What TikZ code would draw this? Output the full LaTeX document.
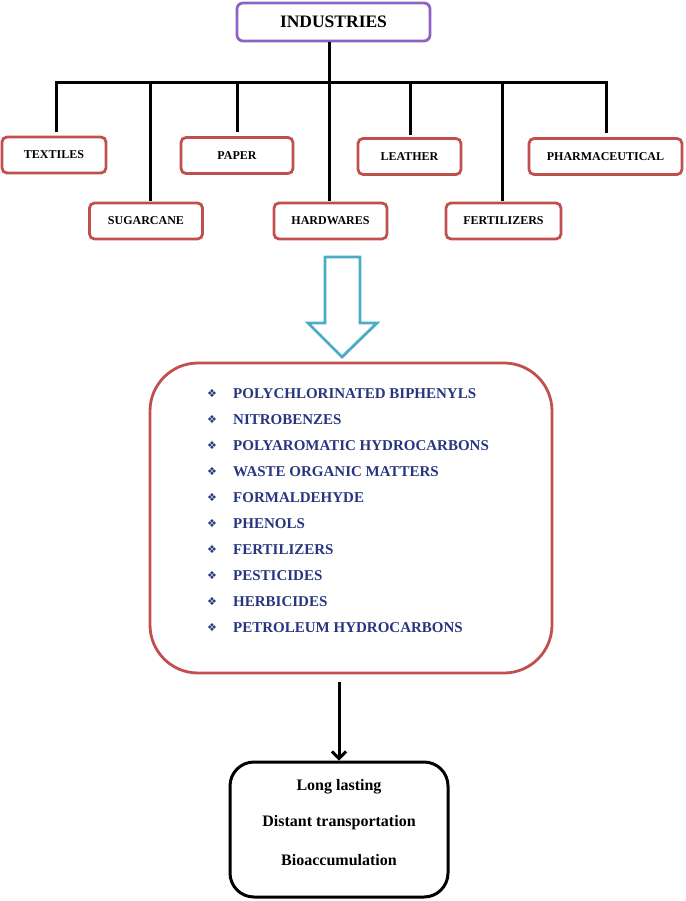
\documentclass[tikz,border=0pt]{standalone}
\usepackage{fontspec}
\setmainfont{Liberation Serif}
\newfontfamily\symfont{DejaVu Sans}
\usetikzlibrary{arrows.meta}
\definecolor{boxred}{HTML}{C0504D}
\definecolor{boxpurple}{HTML}{8E63C4}
\definecolor{arrowblue}{HTML}{4BACC6}
\definecolor{navy}{HTML}{27357F}
\begin{document}
\begin{tikzpicture}[x=1pt,y=-1pt,
  topbox/.style={draw=boxpurple, line width=2.8pt, rounded corners=6pt, inner sep=0pt,
    minimum width=193pt, minimum height=38pt, font=\fontsize{17.5}{18}\selectfont\bfseries},
  indbox/.style={draw=boxred, line width=2.8pt, rounded corners=5pt, inner sep=0pt,
    minimum height=36pt, font=\fontsize{12}{13}\selectfont\bfseries},
  tree/.style={line width=3pt, black},
  bigbox/.style={draw=boxred, line width=2.8pt, rounded corners=48pt, inner sep=0pt,
    minimum width=402pt, minimum height=310pt},
  hollow/.style={draw=arrowblue, line width=2.8pt, fill=white, line join=miter},
  bullet/.style={text=navy, inner sep=0pt, font=\symfont\fontsize{11}{12}\selectfont},
  itemtext/.style={text=navy, inner sep=0pt, anchor=west, font=\fontsize{15}{16}\selectfont\bfseries},
  endbox/.style={draw=black, line width=3pt, rounded corners=24pt, inner sep=0pt,
    minimum width=218pt, minimum height=135pt},
  endtext/.style={inner sep=0pt, font=\fontsize{16}{17}\selectfont\bfseries},
  flow/.style={line width=3pt, black, -{Straight Barb[length=7pt,width=14pt,line width=3pt]}}
]
\useasboundingbox (0,0) rectangle (685,901);

% top node
\node[topbox] (industries) at (333.5,22) {INDUSTRIES};

% industry boxes
\node[indbox, minimum width=104pt] (textiles)    at (54,155)    {TEXTILES};
\node[indbox, minimum width=112pt] (paper)       at (237,155.5) {PAPER};
\node[indbox, minimum width=103pt] (leather)     at (409.5,156.5) {LEATHER};
\node[indbox, minimum width=153pt] (pharma)      at (605.5,156.5) {PHARMACEUTICAL};
\node[indbox, minimum width=113pt] (sugarcane)   at (146,221)   {SUGARCANE};
\node[indbox, minimum width=113pt] (hardwares)   at (330.5,221) {HARDWARES};
\node[indbox, minimum width=115pt] (fertilizers) at (503.5,221) {FERTILIZERS};

% tree connectors
\coordinate (hub) at (329,83);
\coordinate (b1) at (56,83);
\coordinate (b2) at (150,83);
\coordinate (b3) at (237,83);
\coordinate (b4) at (329,83);
\coordinate (b5) at (410,83);
\coordinate (b6) at (502,83);
\coordinate (b7) at (606,83);
\draw[tree] (hub |- industries.south) -- (hub);
\draw[tree, line cap=rect] (b1) -- (b7);
\draw[tree, shorten >=4pt] (b1) -- (b1 |- textiles.north);
\draw[tree, shorten >=1pt] (b2) -- (b2 |- sugarcane.north);
\draw[tree, shorten >=4pt] (b3) -- (b3 |- paper.north);
\draw[tree, shorten >=1pt] (b4) -- (b4 |- hardwares.north);
\draw[tree, shorten >=2pt] (b5) -- (b5 |- leather.north);
\draw[tree, shorten >=1pt] (b6) -- (b6 |- fertilizers.north);
\draw[tree, shorten >=4pt] (b7) -- (b7 |- pharma.north);

% big list box
\node[bigbox] (big) at (351,518) {};
\coordinate (tip) at (342,357);
\draw[hollow] (tip) -- ++(-34,-34) -- ++(17,0) -- ++(0,-66) -- ++(35,0) -- ++(0,66) -- ++(17,0) -- cycle;

\foreach \i/\t in {1/POLYCHLORINATED BIPHENYLS, 2/NITROBENZES, 3/POLYAROMATIC HYDROCARBONS,
  4/WASTE ORGANIC MATTERS, 5/FORMALDEHYDE, 6/PHENOLS, 7/FERTILIZERS, 8/PESTICIDES,
  9/HERBICIDES, 10/PETROLEUM HYDROCARBONS}{
  \node[bullet] (bul\i) at (212,{394+26*(\i-1)}) {❖};
  \node[itemtext] (item\i) at (233,{394+26*(\i-1)}) {\t};
}

% final box
\node[endbox] (final) at (339,829.5) {};
\node[endtext] (long) at (339,787) {Long lasting};
\node[endtext] (dist) at (339,823) {Distant transportation};
\node[endtext] (bio)  at (339,860) {Bioaccumulation};
\draw[flow, shorten <=8pt] (big.south -| final.north) -- (final.north);
\end{tikzpicture}
\end{document}
